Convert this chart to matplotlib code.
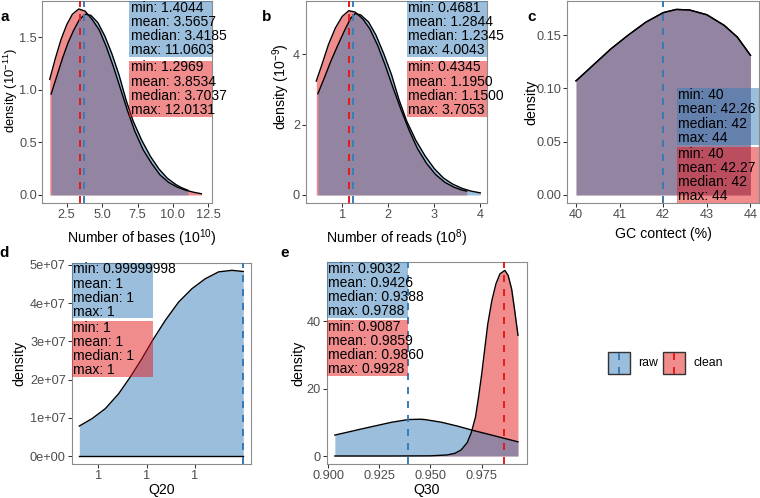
import numpy as np
import matplotlib
matplotlib.use("Agg")
import matplotlib.pyplot as plt
from matplotlib.patches import Rectangle
from matplotlib.colors import to_rgba
from matplotlib.ticker import FuncFormatter, FormatStrFormatter

plt.rcParams['font.family'] = ['Liberation Sans', 'DejaVu Sans']
plt.rcParams['mathtext.default'] = 'regular'

RAW = '#377EB8'
CLEAN = '#E41A1C'

# a: number of bases (x in 1e10, density in 1e-11)
bases_raw_x = [1.40, 1.8, 2.2, 2.6, 3.0, 3.4, 3.8, 4.2, 4.7, 5.2, 5.7, 6.2, 6.7, 7.2,
               7.8, 8.4, 9.0, 9.6, 10.2, 10.6, 11.06]
bases_raw_y = [0.96, 1.13, 1.30, 1.45, 1.57, 1.67, 1.72, 1.71, 1.64, 1.51, 1.34, 1.14, 0.90, 0.70,
               0.52, 0.37, 0.25, 0.16, 0.10, 0.07, 0.045]
bases_clean_x = [1.30, 1.7, 2.1, 2.5, 2.9, 3.35, 3.8, 4.3, 4.8, 5.3, 5.8, 6.3, 6.8, 7.3,
                 7.9, 8.5, 9.1, 9.7, 10.3, 10.9, 11.5, 12.01]
bases_clean_y = [1.10, 1.30, 1.48, 1.62, 1.72, 1.77, 1.75, 1.67, 1.57, 1.41, 1.22, 1.01, 0.80, 0.61,
                 0.43, 0.30, 0.19, 0.12, 0.075, 0.045, 0.025, 0.012]
bases_vline_clean = 3.4185
bases_vline_raw = 3.7037
bases_stats_raw = ['1.4044', '3.5657', '3.4185', '11.0603']
bases_stats_clean = ['1.2969', '3.8534', '3.7037', '12.0131']

# b: number of reads (x in 1e8, density in 1e-9)
reads_raw_x = [0.47, 0.6, 0.75, 0.9, 1.05, 1.18, 1.28, 1.4, 1.57, 1.73, 1.9, 2.07, 2.23, 2.4,
               2.6, 2.8, 3.0, 3.2, 3.4, 3.6, 3.8, 4.0]
reads_raw_y = [2.88, 3.30, 3.80, 4.25, 4.68, 5.02, 5.16, 5.12, 4.92, 4.55, 4.02, 3.42, 2.72, 2.10,
               1.55, 1.11, 0.75, 0.48, 0.31, 0.19, 0.11, 0.06]
reads_clean_x = [0.4345, 0.55, 0.7, 0.85, 1.0, 1.14, 1.28, 1.45, 1.6, 1.77, 1.93, 2.1, 2.27, 2.45,
                 2.63, 2.83, 3.03, 3.23, 3.43, 3.6, 3.7053]
reads_clean_y = [3.24, 3.68, 4.28, 4.75, 5.08, 5.24, 5.20, 5.00, 4.72, 4.25, 3.70, 3.06, 2.45, 1.85,
                 1.33, 0.90, 0.58, 0.36, 0.22, 0.14, 0.11]
reads_vline_clean = 1.1500
reads_vline_raw = 1.2345
reads_stats_raw = ['0.4681', '1.2844', '1.2345', '4.0043']
reads_stats_clean = ['0.4345', '1.1950', '1.1500', '3.7053']

# c: GC content (%)
gc_x = [40.0, 40.4, 40.8, 41.2, 41.6, 42.0, 42.3, 42.6, 43.0, 43.4, 43.7, 44.0]
gc_raw_y = [0.107, 0.122, 0.137, 0.150, 0.162, 0.171, 0.174, 0.1735, 0.169, 0.159, 0.148, 0.131]
gc_clean_y = [0.107, 0.122, 0.137, 0.150, 0.162, 0.171, 0.174, 0.1735, 0.169, 0.159, 0.148, 0.131]
gc_vline_clean = 42
gc_vline_raw = 42
gc_stats_raw = ['40', '42.26', '42', '44']
gc_stats_clean = ['40', '42.27', '42', '44']

# d: Q20 (x given as distance below 1 in 1e-9, density in 1e6)
q20_gap = np.array([16.97, 15.66, 14.28, 12.90, 11.69, 10.49, 9.38, 8.07, 6.69, 5.31, 3.93, 2.55, 1.17, 0.0])
q20_x = 1 - q20_gap * 1e-9
q20_raw_y = np.array([7.85, 9.77, 12.4, 16.3, 20.7, 25.5, 30.3, 35.5, 40.3, 43.8, 46.4, 48.2, 48.6, 48.3]) * 1e6
q20_clean_y = np.zeros(len(q20_gap))
q20_vline_clean = 1.0
q20_vline_raw = 1.0
q20_stats_raw = ['0.99999998', '1', '1', '1']
q20_stats_clean = ['1', '1', '1', '1']
q20_ticks = [1 - 15e-9, 1 - 10e-9, 1 - 5e-9]

# e: Q30
q30_raw_x = [0.9032, 0.909, 0.9147, 0.9228, 0.931, 0.9391, 0.945, 0.9473, 0.9554, 0.9636,
             0.9701, 0.9799, 0.987, 0.9928]
q30_raw_y = [6.2, 7.0, 7.8, 8.9, 10.0, 10.8, 10.9, 10.8, 10.0, 8.8, 7.7, 6.2, 5.1, 4.2]
q30_clean_x = [0.9032, 0.93, 0.95, 0.958, 0.962, 0.965, 0.968, 0.970, 0.972, 0.9734, 0.975,
               0.9766, 0.978, 0.980, 0.982, 0.984, 0.9864, 0.988, 0.9897, 0.991, 0.9928]
q30_clean_y = [0.0, 0.0, 0.05, 0.3, 0.8, 1.8, 4.0, 7.0, 11.5, 17.0, 24.0, 32.0, 39.0, 46.0,
               51.0, 54.0, 55.0, 53.5, 49.5, 44.0, 35.8]
q30_vline_clean = 0.9860
q30_vline_raw = 0.9388
q30_stats_raw = ['0.9032', '0.9426', '0.9388', '0.9788']
q30_stats_clean = ['0.9087', '0.9859', '0.9860', '0.9928']

stat_names = ['min', 'mean', 'median', 'max']

W, H = 760, 498
TICK_SIZE = 9.2
BOX_SIZE = 10
TITLE_SIZE = 10.2
fig = plt.figure(figsize=(W / 100, H / 100), dpi=100)


def px_axes(l, r, t, b):
    return fig.add_axes([l / W, 1 - b / H, (r - l) / W, (b - t) / H])


def style(ax):
    for s in ax.spines.values():
        s.set_color('#8c8c8c')
        s.set_linewidth(0.8)
    ax.tick_params(length=2.75, width=0.75, color='#333333', labelcolor='#4D4D4D',
                   labelsize=TICK_SIZE, pad=1.5)


def draw_pair(ax, rx, ry, cx, cy, vc, vr):
    ax.fill_between(cx, cy, color=CLEAN, alpha=0.5, lw=0, zorder=1)
    ax.fill_between(rx, ry, color=RAW, alpha=0.5, lw=0, zorder=1)
    ax.plot(cx, cy, color='black', lw=1.0, zorder=2)
    ax.plot(rx, ry, color='black', lw=1.0, zorder=2)
    ax.axvline(vc, color=CLEAN, lw=1.4, dashes=(3.6, 3.6), zorder=3)
    ax.axvline(vr, color=RAW, lw=1.4, dashes=(3.6, 3.6), zorder=3)


def stat_box(ax, x0, x1, y0, y1, values, color):
    ax.add_patch(Rectangle((x0, y0), x1 - x0, y1 - y0, transform=ax.transAxes,
                           facecolor=color, alpha=0.5, lw=0, zorder=4))
    for i, (n, v) in enumerate(zip(stat_names, values)):
        ax.annotate(n + ': ' + v, xy=(x0, y1), xycoords='axes fraction',
                    xytext=(1.0, -4.8 - 10.25 * i), textcoords='offset points',
                    va='center', ha='left', fontsize=BOX_SIZE, color='black', zorder=5)


def titles(ax, xlab, ylab, xl, yl, ysize=TITLE_SIZE):
    ax.set_xlabel(xlab, fontsize=TITLE_SIZE)
    ax.set_ylabel(ylab, fontsize=ysize)
    ax.xaxis.set_label_coords(*xl)
    ax.yaxis.set_label_coords(*yl)


# panel a
ax = px_axes(41.7, 212, 1, 203.3)
draw_pair(ax, bases_raw_x, bases_raw_y, bases_clean_x, bases_clean_y, bases_vline_clean, bases_vline_raw)
stat_box(ax, 0.514, 1.0, 0.722, 1.0, bases_stats_raw, RAW)
stat_box(ax, 0.514, 1.0, 0.428, 0.705, bases_stats_clean, CLEAN)
ax.set_xlim(0.734, 12.76)
ax.set_ylim(-0.079, 1.846)
ax.set_xticks([2.5, 5.0, 7.5, 10.0, 12.5])
ax.set_yticks([0.0, 0.5, 1.0, 1.5])
titles(ax, 'Number of bases (10$^{10}$)', 'density (10$^{-11}$)', (0.587, -0.117), (-0.128, 0.56), 9.4)
style(ax)
ax.tick_params(axis='y', pad=0.5)

# panel b
ax = px_axes(306, 487.3, 1, 203.3)
draw_pair(ax, reads_raw_x, reads_raw_y, reads_clean_x, reads_clean_y, reads_vline_clean, reads_vline_raw)
stat_box(ax, 0.555, 1.0, 0.722, 1.0, reads_stats_raw, RAW)
stat_box(ax, 0.555, 1.0, 0.428, 0.705, reads_stats_clean, CLEAN)
ax.set_xlim(0.211, 4.152)
ax.set_ylim(-0.236, 5.516)
ax.set_xticks([1, 2, 3, 4])
ax.set_yticks([0, 2, 4])
titles(ax, 'Number of reads (10$^{8}$)', 'density (10$^{-9}$)', (0.5, -0.117), (-0.075, 0.575))
style(ax)

# panel c
ax = px_axes(567.3, 759, 1, 203.3)
draw_pair(ax, gc_x, gc_raw_y, gc_x, gc_clean_y, gc_vline_clean, gc_vline_raw)
stat_box(ax, 0.572, 1.0, 0.288, 0.568, gc_stats_raw, RAW)
stat_box(ax, 0.572, 1.0, 0.0, 0.278, gc_stats_clean, CLEAN)
ax.set_xlim(39.80, 44.196)
ax.set_ylim(-0.0078, 0.1819)
ax.set_xticks([40, 41, 42, 43, 44])
ax.set_yticks([0.0, 0.05, 0.10, 0.15])
ax.yaxis.set_major_formatter(FormatStrFormatter('%.2f'))
titles(ax, 'GC contect (%)', 'density', (0.5, -0.117), (-0.153, 0.5))
style(ax)

# panel d
ax = px_axes(71.7, 250.7, 262.7, 464)
draw_pair(ax, q20_x, q20_raw_y, q20_x, q20_clean_y, q20_vline_clean, q20_vline_raw)
stat_box(ax, 0.0, 0.4525, 0.727, 1.0, q20_stats_raw, RAW)
stat_box(ax, 0.0, 0.4525, 0.434, 0.710, q20_stats_clean, CLEAN)
ax.set_xlim(1 - 17.76e-9, 1 + 0.77e-9)
ax.set_ylim(-2.09e6, 50.6e6)
ax.set_xticks(q20_ticks)
ax.xaxis.set_major_formatter(FuncFormatter(lambda v, p: '%.6g' % v))
ax.set_yticks([0, 1e7, 2e7, 3e7, 4e7, 5e7])
ax.yaxis.set_major_formatter(FuncFormatter(lambda v, p: '%.0e' % v))
titles(ax, 'Q20', 'density', (0.5, -0.092), (-0.252, 0.5))
style(ax)

# panel e
ax = px_axes(326.7, 527.3, 262, 464)
draw_pair(ax, q30_raw_x, q30_raw_y, q30_clean_x, q30_clean_y, q30_vline_clean, q30_vline_raw)
stat_box(ax, 0.0, 0.407, 0.724, 1.0, q30_stats_raw, RAW)
stat_box(ax, 0.0, 0.407, 0.437, 0.713, q30_stats_clean, CLEAN)
ax.set_xlim(0.89922, 0.99736)
ax.set_ylim(-2.37, 57.5)
ax.set_xticks([0.900, 0.925, 0.950, 0.975])
ax.xaxis.set_major_formatter(FormatStrFormatter('%.3f'))
ax.set_yticks([0, 20, 40])
titles(ax, 'Q30', 'density', (0.5, -0.092), (-0.108, 0.5))
style(ax)

# legend
lax = px_axes(600, 720, 345, 382)
lax.set_xlim(600, 720)
lax.set_ylim(382, 345)
lax.axis('off')
for x0, col, name in [(608.3, RAW, 'raw'), (663.3, CLEAN, 'clean')]:
    lax.add_patch(Rectangle((x0, 352.3), 21.7, 21.7, facecolor=to_rgba(col, 0.5),
                            edgecolor='#333333', lw=1.0))
    lax.plot([x0 + 10.85, x0 + 10.85], [352.8, 373.5], color=col, lw=1.4, dashes=(3.6, 3.6))
    lax.text(x0 + 30, 363.2, name, fontsize=8.8, va='center', ha='left')

# panel letters
for lab, x, y in [('a', 4.5, 17), ('b', 266.7, 17), ('c', 531.7, 17), ('d', 4.5, 253), ('e', 285, 253)]:
    fig.text(x / W, 1 - y / H, lab, fontsize=11, fontweight='bold', ha='center', va='center')

fig.savefig('out.png', dpi=100)
